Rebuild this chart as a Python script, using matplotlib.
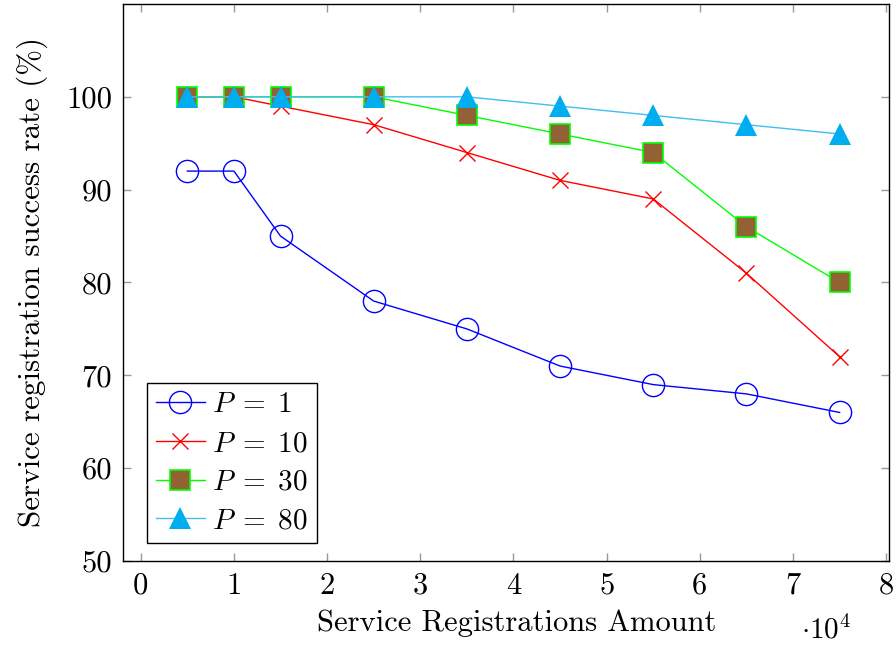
import matplotlib
matplotlib.use('Agg')
import matplotlib.pyplot as plt

plt.rcParams['font.family'] = 'cmr10'
plt.rcParams['mathtext.fontset'] = 'cm'
plt.rcParams['axes.formatter.use_mathtext'] = True

# data
amounts = [5000, 10000, 15000, 25000, 35000, 45000, 55000, 65000, 75000]
rate_p1 = [92, 92, 85, 78, 75, 71, 69, 68, 66]
rate_p10 = [100, 100, 99, 97, 94, 91, 89, 81, 72]
rate_p30 = [100, 100, 100, 100, 98, 96, 94, 86, 80]
rate_p80 = [100, 100, 100, 100, 100, 99, 98, 97, 96]
x_ticks = [0, 1, 2, 3, 4, 5, 6, 7, 8]
y_ticks = [50, 60, 70, 80, 90, 100]

fig = plt.figure(figsize=(8.96, 6.46), dpi=100)
ax = fig.add_axes([0.1373, 0.1316, 0.8549, 0.8622])

ax.plot(amounts, rate_p1, color='#0000ff', lw=1, marker='o', ms=16,
        mfc='none', mec='#0000ff', mew=1, label=r'$P\;=\;1$')
ax.plot(amounts, rate_p10, color='#ff0000', lw=1, marker='x', ms=12,
        mec='#ff0000', mew=1, label=r'$P\;=\;10$')
ax.plot(amounts, rate_p30, color='#00ff00', lw=1, marker='s', ms=15,
        mfc='#936234', mec='#00ff00', mew=1.2, label=r'$P\;=\;30$')
ax.plot(amounts, rate_p80, color='#40bff0', lw=1, marker='^', ms=16,
        mfc='#00aeef', mec='#00aeef', mew=0, label=r'$P\;=\;80$')

ax.set_xlim(-1900, 80300)
ax.set_ylim(50, 110)
ax.set_xticks([t * 10000 for t in x_ticks])
ax.set_xticklabels([str(t) for t in x_ticks])
ax.set_yticks(y_ticks)
ax.set_yticklabels([str(t) for t in y_ticks])
ax.tick_params(direction='in', top=True, right=True, length=6, width=1,
               color='#999999', labelsize=22, pad=8)
for s in ax.spines.values():
    s.set_linewidth(1)

ax.set_xlabel('Service Registrations Amount', fontsize=22, labelpad=7)
ax.xaxis.label.set_x(0.514)
ax.set_ylabel('Service registration success rate (%)', fontsize=22.3, labelpad=13)
fig.text(0.922, 0.012, r'$\cdot 10^4$', fontsize=21, ha='center', va='baseline')

leg = ax.legend(loc='lower left', bbox_to_anchor=(0.031, 0.032), fontsize=21,
                frameon=True, fancybox=False, edgecolor='black', framealpha=1,
                handlelength=1.7, handletextpad=0.25, borderpad=0.3,
                labelspacing=0.42, borderaxespad=0)
leg.get_frame().set_linewidth(1)

fig.savefig('out.png', dpi=100)
